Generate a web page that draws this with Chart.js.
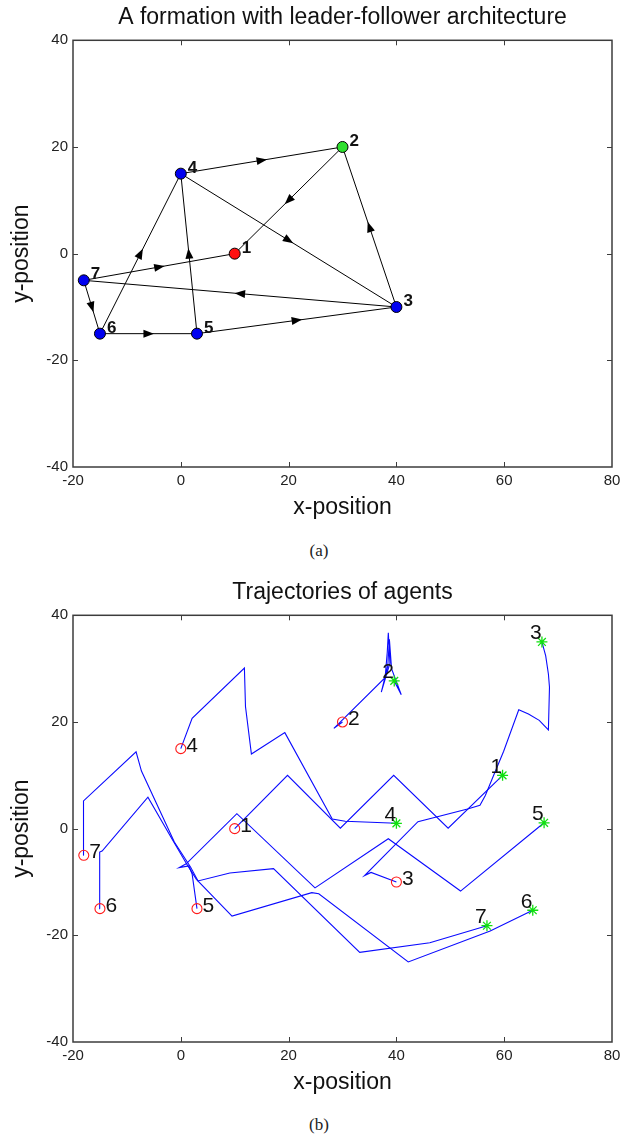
<!DOCTYPE html>
<html>
<head>
<meta charset="utf-8">
<script src="https://cdn.jsdelivr.net/npm/chart.js@4.4.0/dist/chart.umd.min.js"></script>
<style>
  body { margin: 0; background: #fff; width: 631px; height: 1142px; position: relative; overflow: hidden; }
  .panel { position: absolute; left: 0; width: 631px; height: 530px; }
  #panelA { top: 0; }
  #panelB { top: 575px; }
  .caption { position: absolute; left: 0; width: 638px; text-align: center;
             font-family: "Liberation Serif", "Times New Roman", serif; font-size: 17px; color: #222; }
</style>
</head>
<body>
<div class="panel" id="panelA"><canvas id="formationChart" width="631" height="530"></canvas></div>
<div class="caption" style="top:541px">(a)</div>
<div class="panel" id="panelB"><canvas id="trajChart" width="631" height="530"></canvas></div>
<div class="caption" style="top:1115px">(b)</div>

<script>
// ---- data ----
const xTicks = [-20, 0, 20, 40, 60, 80];
const yTicks = [-40, -20, 0, 20, 40];

// (a) formation: agent positions and directed links (from -> to)
const agents = ['1', '2', '3', '4', '5', '6', '7'];
const formX = [10, 30, 40, 0, 3, -15, -18];
const formY = [0, 20, -10, 15, -15, -15, -5];
const linkFrom = [4, 2, 4, 3, 7, 3, 7, 6, 5, 6, 5];
const linkTo   = [2, 1, 3, 2, 1, 7, 6, 5, 3, 4, 4];

// (b) trajectories of each agent
const path1X = [10, 19.8, 29.6, 39.5, 49.6, 59.7];
const path1Y = [0, 10, 0.1, 10, 0.1, 10];
const path2X = [30, 28.4, 37.9, 38.3, 38.5, 38.8, 37.2, 38.4, 38.7, 39.1, 40.9, 39.6];
const path2Y = [20, 18.8, 28.3, 33, 36.7, 31, 25.6, 30.5, 35.5, 30, 25.1, 27.7];
const path3X = [40, 35.3, 34.1, 44.0, 53.2, 55.5, 56.5, 58.2, 59.9, 62.7, 64.5, 66.5, 68.2, 68.4, 68.2, 67.7, 67.0];
const path3Y = [-10, -8.2, -8.8, 1.3, 3.7, 4.4, 6.2, 10.4, 14.5, 22.3, 21.5, 20.3, 18.5, 26.5, 29, 32.4, 35];
const path4X = [0, 2.1, 11.8, 12.0, 13.1, 19.3, 28.1, 30.5, 40.0];
const path4Y = [15, 20.7, 30.1, 22.9, 14.0, 18.0, 1.8, 1.4, 1.0];
const path5X = [3, 2.1, 1.5, -0.3, 1.0, 10.4, 24.9, 38.5, 51.9, 67.4];
const path5Y = [-15, -8.5, -7, -7.3, -6.6, 2.8, -11.1, -1.9, -11.7, 1.1];
const path6X = [-15, -15.1, -15, -14.6, -6.1, -1.6, 1.2, 2.9, 9.5, 24.3, 25.6, 42.2, 57.4, 65.3];
const path6Y = [-15, -10, -4.4, -4.2, 5.9, -2, -6.8, -9.5, -16.4, -12, -12.2, -25, -19.2, -15.3];
const path7X = [-18, -18.1, -18, -8.3, -7.3, -1.2, 1.8, 3.2, 9.1, 17.2, 33.2, 46.2, 56.8];
const path7Y = [-5, 1.7, 5.2, 14.4, 10.8, -2.5, -7.2, -9.8, -8.3, -7.5, -23.2, -21.4, -18.2];

const pathsX = [path1X, path2X, path3X, path4X, path5X, path6X, path7X];
const pathsY = [path1Y, path2Y, path3Y, path4Y, path5Y, path6Y, path7Y];

// ---- shared look ----
Chart.defaults.font.family = '"Liberation Sans", Arial, Helvetica, sans-serif';
Chart.defaults.color = '#222';
const tickFont = { family: '"Liberation Sans Narrow", "Arial Narrow", "Liberation Sans", sans-serif', size: 15 };

function toPoints(xs, ys) {
  return xs.map((v, i) => ({ x: v, y: ys[i] }));
}

// MATLAB style box with inward ticks on all four sides
const boxPlugin = {
  id: 'box',
  afterDraw(chart) {
    const { ctx, chartArea: a, scales: { x, y } } = chart;
    ctx.save();
    ctx.strokeStyle = '#3c3c3c';
    ctx.lineWidth = 1;
    ctx.beginPath();
    xTicks.slice(1, -1).forEach(v => {
      const px = Math.round(x.getPixelForValue(v)) + 0.5;
      ctx.moveTo(px, a.bottom); ctx.lineTo(px, a.bottom - 5);
      ctx.moveTo(px, a.top); ctx.lineTo(px, a.top + 5);
    });
    yTicks.slice(1, -1).forEach(v => {
      const py = Math.round(y.getPixelForValue(v)) + 0.5;
      ctx.moveTo(a.left, py); ctx.lineTo(a.left + 5, py);
      ctx.moveTo(a.right, py); ctx.lineTo(a.right - 5, py);
    });
    ctx.stroke();
    ctx.lineWidth = 1.5;
    ctx.strokeRect(a.left, a.top, a.width, a.height);
    ctx.restore();
  }
};

function axes() {
  return {
    x: {
      type: 'linear', min: -20, max: 80,
      afterBuildTicks: s => { s.ticks = xTicks.map(v => ({ value: v })); },
      afterFit: s => { s.height = 63; },
      grid: { display: false, drawTicks: false },
      border: { display: false },
      ticks: { padding: 5, font: tickFont, maxRotation: 0 },
      title: { display: true, text: 'x-position', font: { size: 23 }, color: '#111',
               padding: { top: 0, bottom: 9 } }
    },
    y: {
      type: 'linear', min: -40, max: 40,
      afterBuildTicks: s => { s.ticks = yTicks.map(v => ({ value: v })); },
      afterFit: s => { s.width = 73; },
      grid: { display: false, drawTicks: false },
      border: { display: false },
      ticks: { padding: 5, font: tickFont },
      title: { display: true, text: 'y-position', font: { size: 23 }, color: '#111',
               padding: { top: 8, bottom: 0 } }
    }
  };
}

function baseOptions(titleText) {
  return {
    responsive: false,
    animation: false,
    layout: { padding: { left: 0, right: 19, top: 0, bottom: 0 } },
    scales: axes(),
    plugins: {
      legend: { display: false },
      tooltip: { enabled: false },
      title: {
        display: true, text: titleText, fullSize: false, color: '#111',
        font: { size: 23, weight: 'normal', lineHeight: 1.1 },
        padding: { top: 5, bottom: 10 }
      }
    }
  };
}

// ---- chart (a) ----
const arrowPlugin = {
  id: 'arrows',
  afterDatasetsDraw(chart) {
    const { ctx, scales: { x, y } } = chart;
    ctx.save();
    ctx.fillStyle = '#000';
    linkFrom.forEach((f, i) => {
      const t = linkTo[i];
      const x1 = x.getPixelForValue(formX[f - 1]), y1 = y.getPixelForValue(formY[f - 1]);
      const x2 = x.getPixelForValue(formX[t - 1]), y2 = y.getPixelForValue(formY[t - 1]);
      ctx.save();
      ctx.translate((x1 + x2) / 2, (y1 + y2) / 2);
      ctx.rotate(Math.atan2(y2 - y1, x2 - x1));
      ctx.beginPath();
      ctx.moveTo(5.5, 0);
      ctx.lineTo(-5, -4);
      ctx.lineTo(-5, 4);
      ctx.closePath();
      ctx.fill();
      ctx.restore();
    });
    ctx.restore();
  }
};

const nodeLabelPlugin = {
  id: 'nodeLabels',
  afterDatasetsDraw(chart) {
    const { ctx, scales: { x, y } } = chart;
    ctx.save();
    ctx.fillStyle = '#111';
    ctx.font = 'bold 17px "Liberation Sans", Arial, sans-serif';
    ctx.textBaseline = 'alphabetic';
    agents.forEach((a, i) => {
      ctx.fillText(a, x.getPixelForValue(formX[i]) + 7, y.getPixelForValue(formY[i]) - 1);
    });
    ctx.restore();
  }
};

const linkSets = linkFrom.map((f, i) => ({
  type: 'line',
  data: [{ x: formX[f - 1], y: formY[f - 1] }, { x: formX[linkTo[i] - 1], y: formY[linkTo[i] - 1] }],
  borderColor: '#000',
  borderWidth: 1,
  pointRadius: 0,
  order: 2
}));

new Chart(document.getElementById('formationChart'), {
  type: 'scatter',
  data: {
    datasets: [
      {
        data: toPoints(formX, formY),
        pointRadius: 5.5,
        pointBorderWidth: 1,
        pointBorderColor: '#000',
        pointBackgroundColor: agents.map(a => a === '1' ? '#ff1010' : a === '2' ? '#2ee02e' : '#0000f0'),
        order: 0
      },
      ...linkSets
    ]
  },
  options: baseOptions('A formation with leader-follower architecture'),
  plugins: [arrowPlugin, nodeLabelPlugin, boxPlugin]
});

// ---- chart (b) ----
const agentLabelPlugin = {
  id: 'agentLabels',
  afterDatasetsDraw(chart) {
    const { ctx, scales: { x, y } } = chart;
    ctx.save();
    ctx.fillStyle = '#111';
    ctx.font = '21px "Liberation Sans", Arial, sans-serif';
    ctx.textBaseline = 'alphabetic';
    agents.forEach((a, i) => {
      const xs = pathsX[i], ys = pathsY[i];
      const n = xs.length - 1;
      ctx.fillText(a, x.getPixelForValue(xs[0]) + 5.5, y.getPixelForValue(ys[0]) + 3);
      ctx.fillText(a, x.getPixelForValue(xs[n]) - 12, y.getPixelForValue(ys[n]) - 2.5);
    });
    ctx.restore();
  }
};

const pathSets = pathsX.map((xs, i) => ({
  type: 'line',
  data: toPoints(xs, pathsY[i]),
  borderColor: '#0a0aff',
  borderWidth: 1.1,
  pointRadius: 0,
  tension: 0,
  order: 3
}));

new Chart(document.getElementById('trajChart'), {
  type: 'scatter',
  data: {
    datasets: [
      {
        data: pathsX.map((xs, i) => ({ x: xs[0], y: pathsY[i][0] })),
        pointStyle: 'circle',
        pointRadius: 5,
        pointBorderWidth: 1.1,
        pointBorderColor: '#ff1a1a',
        pointBackgroundColor: 'rgba(0,0,0,0)',
        order: 1
      },
      {
        data: pathsX.map((xs, i) => ({ x: xs[xs.length - 1], y: pathsY[i][xs.length - 1] })),
        pointStyle: 'star',
        pointRadius: 5.5,
        pointBorderWidth: 1.3,
        pointBorderColor: '#10e010',
        order: 0
      },
      ...pathSets
    ]
  },
  options: baseOptions('Trajectories of agents'),
  plugins: [agentLabelPlugin, boxPlugin]
});
</script>
</body>
</html>
